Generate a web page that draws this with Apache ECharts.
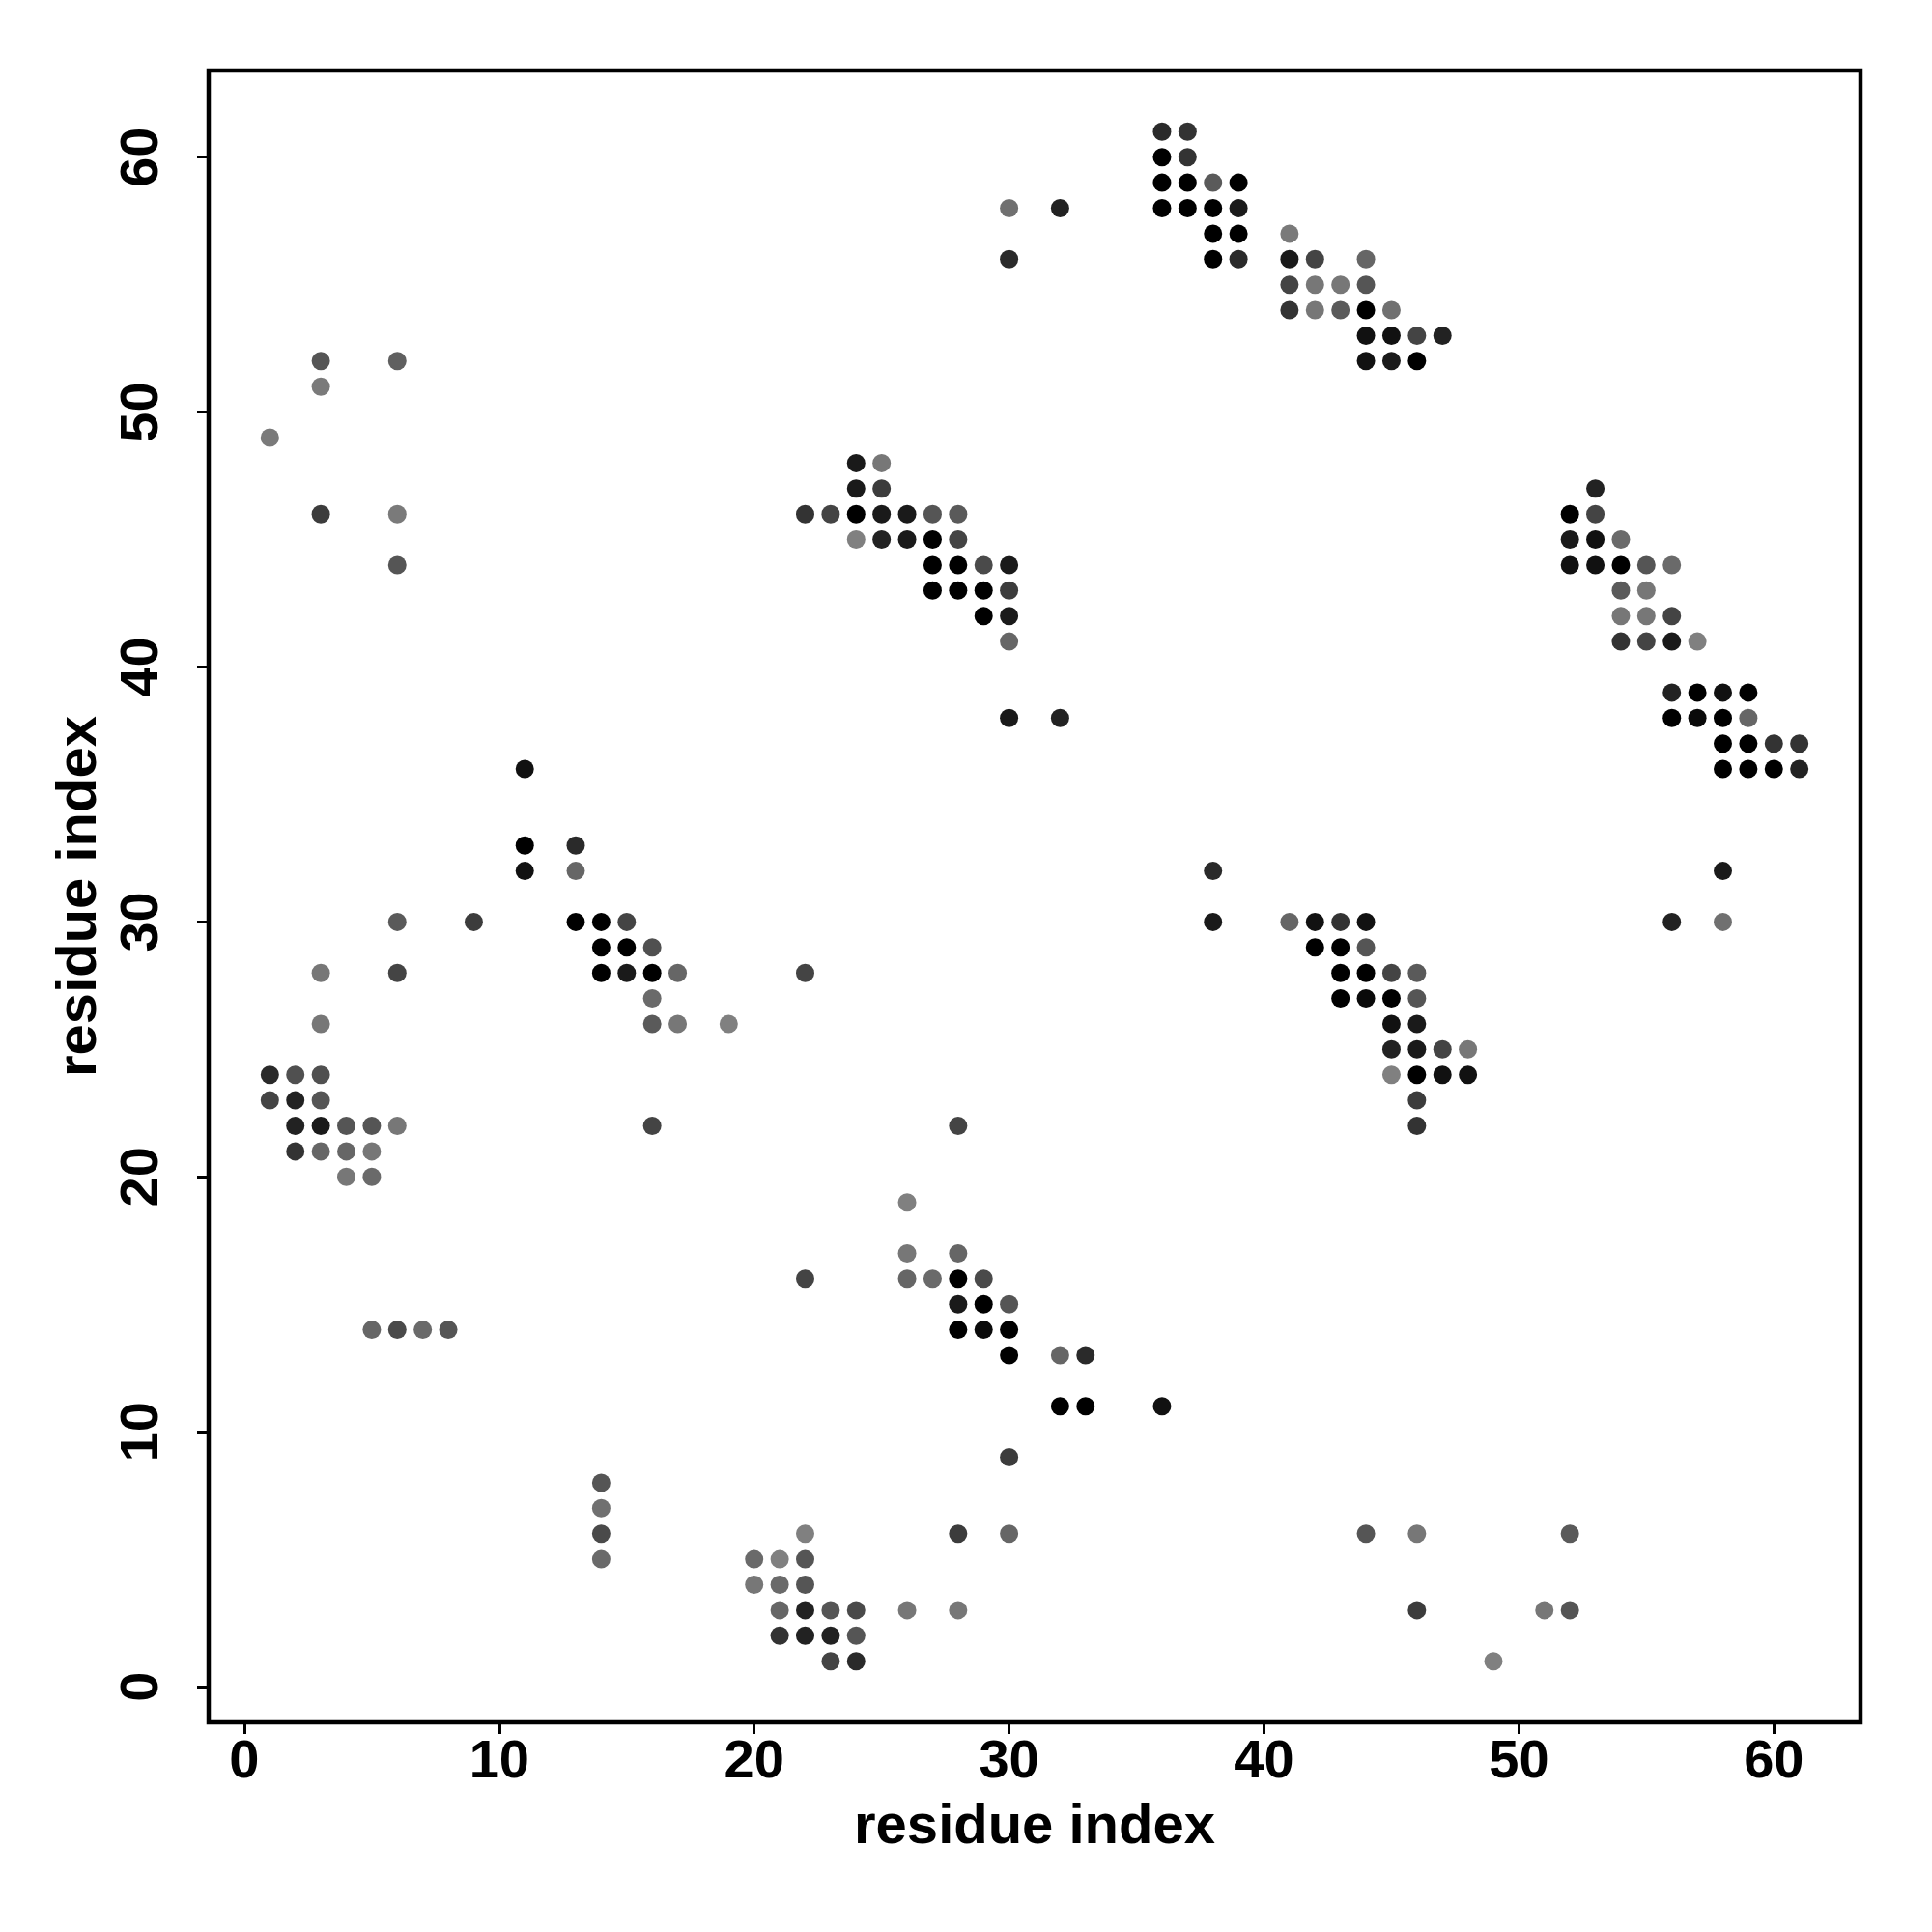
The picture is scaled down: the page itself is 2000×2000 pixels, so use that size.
<!DOCTYPE html>
<html>
<head>
<meta charset="utf-8">
<script src="https://cdn.jsdelivr.net/npm/echarts@6/dist/echarts.min.js"></script>
<style>html,body{margin:0;padding:0;background:#fff}#c{width:2000px;height:2000px}</style>
</head>
<body>
<div id="c"></div>
<script>
// residue i (x), residue j (y), gray level of the dot (0 = black, 128 = mid gray)
const resX = [3,6,3,1,3,6,6,
36,37,36,37,36,37,38,39,30,32,36,37,38,39,38,39,41,30,38,39,41,42,44,41,42,43,44,41,42,43,44,45,44,45,46,47,44,45,46,
24,25,24,25,53,22,23,24,25,26,27,28,52,53,24,25,26,27,28,52,53,54,27,28,29,30,52,53,54,55,56,27,28,29,30,54,55,29,30,54,55,56,30,54,55,56,57,56,57,58,59,30,32,56,57,58,59,58,59,60,61,11,58,59,60,61,
11,13,11,13,38,58,6,9,13,14,15,38,41,42,43,44,56,58,14,15,16,42,43,44,3,6,14,15,16,17,22,43,44,45,46,16,43,44,45,46,3,16,17,19,45,46,45,46,47,48,1,2,3,45,46,47,48,1,2,3,46,2,3,4,5,6,16,28,46,2,3,4,5,4,5,
26,26,28,22,26,27,28,29,28,29,30,5,6,7,8,28,29,30,30,32,33,32,33,36,30,14,14,14,14,22,28,30,44,46,52,20,21,22,20,21,22,21,22,23,24,26,28,46,51,52,21,22,23,24,23,24,49];
const resY = [52,52,51,49,46,46,44,
61,61,60,60,59,59,59,59,58,58,58,58,58,58,57,57,57,56,56,56,56,56,56,55,55,55,55,54,54,54,54,54,53,53,53,53,52,52,52,
48,48,47,47,47,46,46,46,46,46,46,46,46,46,45,45,45,45,45,45,45,45,44,44,44,44,44,44,44,44,44,43,43,43,43,43,43,42,42,42,42,42,41,41,41,41,41,39,39,39,39,38,38,38,38,38,38,37,37,37,37,36,36,36,36,36,
33,33,32,32,32,32,30,30,30,30,30,30,30,30,30,30,30,30,29,29,29,29,29,29,28,28,28,28,28,28,28,28,28,28,28,27,27,27,27,27,26,26,26,26,26,26,25,25,25,25,24,24,24,24,24,24,24,23,23,23,23,22,22,22,22,22,22,22,22,21,21,21,21,20,20,
19,17,17,16,16,16,16,16,15,15,15,14,14,14,14,14,14,14,13,13,13,11,11,11,9,8,7,6,5,6,6,6,6,6,6,5,5,5,4,4,4,3,3,3,3,3,3,3,3,3,2,2,2,2,1,1,1];
const dotGray = [85,96,122,122,60,122,85,
42,51,0,51,0,0,90,0,112,34,0,0,0,26,0,0,122,42,0,42,26,68,102,68,119,119,85,51,119,90,0,112,17,17,68,34,17,26,0,
26,119,26,60,34,51,68,0,26,26,85,90,0,68,128,34,26,0,68,26,17,106,0,0,74,26,17,17,0,85,106,0,0,0,60,90,119,0,26,119,119,68,102,51,68,26,128,34,0,17,0,26,34,0,10,0,102,0,0,51,51,17,0,0,0,34,
0,42,17,102,42,26,90,60,0,0,68,26,102,17,51,17,34,112,0,0,80,0,0,85,119,68,0,26,0,102,68,0,0,68,90,106,0,10,0,85,119,90,119,128,17,26,34,26,68,119,42,80,80,128,0,17,17,68,34,85,60,34,26,85,85,119,68,68,51,51,102,102,119,119,106,
128,119,102,68,102,106,0,74,26,0,85,102,74,106,85,0,10,0,0,102,42,0,0,17,60,85,112,74,106,128,60,102,85,119,90,106,128,85,119,106,85,102,34,85,74,119,119,60,119,85,51,34,34,85,68,42,128];
const tickValues = [0, 10, 20, 30, 40, 50, 60];
const axisTitleX = 'residue index';
const axisTitleY = 'residue index';

const points = resX.map((x, k) => {
  const g = dotGray[k];
  return { value: [x, resY[k]], itemStyle: { color: 'rgb(' + g + ',' + g + ',' + g + ')', opacity: 1 } };
});

const font = 'Liberation Sans, Arial, Helvetica, sans-serif';
const chart = echarts.init(document.getElementById('c'), null, { renderer: 'canvas' });
chart.setOption({
  animation: false,
  backgroundColor: '#ffffff',
  grid: {
    left: 216, top: 73, width: 1710, height: 1710,
    show: true, borderColor: '#000', borderWidth: 4.5, backgroundColor: 'transparent',
    containLabel: false, outerBoundsMode: 'none'
  },
  xAxis: {
    type: 'value', min: -1.4, max: 63.4,
    splitLine: { show: false },
    axisLine: { show: false, onZero: false },
    axisTick: { show: true, inside: false, length: 12, lineStyle: { color: '#000', width: 3 }, customValues: tickValues },
    axisLabel: { customValues: tickValues, color: '#000', fontFamily: font, fontWeight: 'bold', fontSize: 56, margin: 14 },
    name: axisTitleX, nameLocation: 'middle', nameGap: 80,
    nameTextStyle: { color: '#000', fontFamily: font, fontWeight: 'bold', fontSize: 58 }
  },
  yAxis: {
    type: 'value', min: -1.4, max: 63.4,
    splitLine: { show: false },
    axisLine: { show: false, onZero: false },
    axisTick: { show: true, inside: false, length: 12, lineStyle: { color: '#000', width: 3 }, customValues: tickValues },
    axisLabel: { customValues: tickValues, rotate: 90, color: '#000', fontFamily: font, fontWeight: 'bold', fontSize: 56, margin: 40 },
    name: axisTitleY, nameLocation: 'middle', nameGap: 104, nameRotate: 90,
    nameTextStyle: { color: '#000', fontFamily: font, fontWeight: 'bold', fontSize: 58 }
  },
  series: [{
    type: 'scatter',
    symbol: 'circle',
    symbolSize: 19,
    itemStyle: { opacity: 1 },
    data: points,
    silent: true
  }]
});
</script>
</body>
</html>
